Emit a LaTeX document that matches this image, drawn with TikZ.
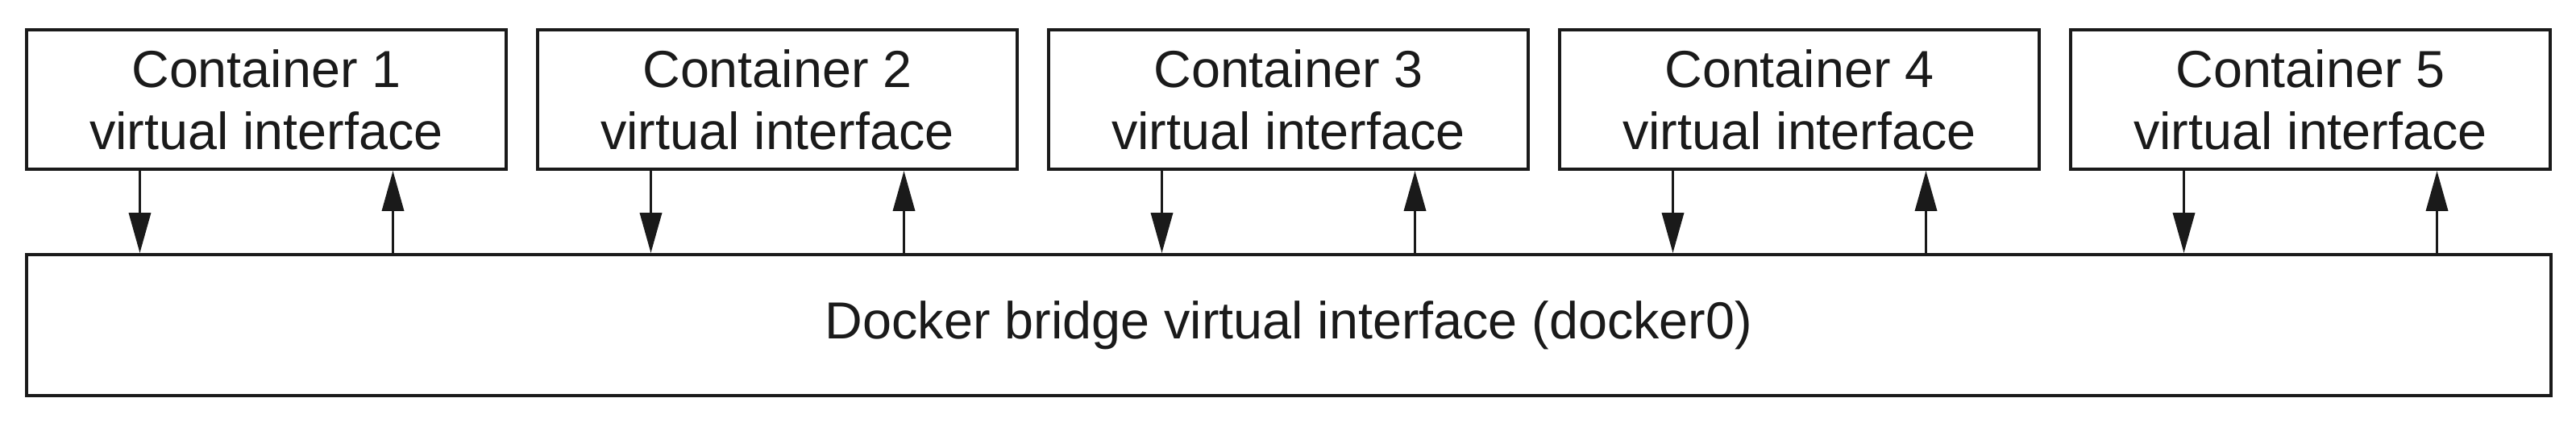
\documentclass[tikz,border=0pt]{standalone}
\usepackage{fontspec}
\setmainfont{Liberation Sans}
\usetikzlibrary{arrows.meta}
\definecolor{linegray}{HTML}{1A1A1A}

\begin{document}
\begin{tikzpicture}[
        iface/.style={rectangle, draw=linegray, line width=1.1pt, minimum width=5.95cm, minimum height=1.73cm, inner sep=0pt, align=center, text=linegray, font=\fontsize{18.4}{21.9}\selectfont},
        link/.style={draw=linegray, line width=1pt, -{Triangle[length=0.5cm, width=0.27cm]}}
    ]
        \useasboundingbox (0,0) rectangle (31.96,5.24);

        % Draw nodes
        \node[iface] (c1) at (3.305,4.005) {Container 1\\virtual interface};
        \node[iface] (c2) at (9.645,4.005) {Container 2\\virtual interface};
        \node[iface] (c3) at (15.985,4.005) {Container 3\\virtual interface};
        \node[iface] (c4) at (22.325,4.005) {Container 4\\virtual interface};
        \node[iface] (c5) at (28.665,4.005) {Container 5\\virtual interface};
        \node[iface, minimum width=31.32cm, minimum height=1.75cm] (bridge) at (15.99,1.205) {Docker bridge virtual interface (docker0)};

        % Draw connections
        \draw[link] ([xshift=-1.57cm]c1.south) -- ([xshift=-1.57cm]c1.south |- bridge.north);
        \draw[link] ([xshift=1.57cm]c1.south |- bridge.north) -- ([xshift=1.57cm]c1.south);
        \draw[link] ([xshift=-1.57cm]c2.south) -- ([xshift=-1.57cm]c2.south |- bridge.north);
        \draw[link] ([xshift=1.57cm]c2.south |- bridge.north) -- ([xshift=1.57cm]c2.south);
        \draw[link] ([xshift=-1.57cm]c3.south) -- ([xshift=-1.57cm]c3.south |- bridge.north);
        \draw[link] ([xshift=1.57cm]c3.south |- bridge.north) -- ([xshift=1.57cm]c3.south);
        \draw[link] ([xshift=-1.57cm]c4.south) -- ([xshift=-1.57cm]c4.south |- bridge.north);
        \draw[link] ([xshift=1.57cm]c4.south |- bridge.north) -- ([xshift=1.57cm]c4.south);
        \draw[link] ([xshift=-1.57cm]c5.south) -- ([xshift=-1.57cm]c5.south |- bridge.north);
        \draw[link] ([xshift=1.57cm]c5.south |- bridge.north) -- ([xshift=1.57cm]c5.south);
    \end{tikzpicture}
\end{document}
